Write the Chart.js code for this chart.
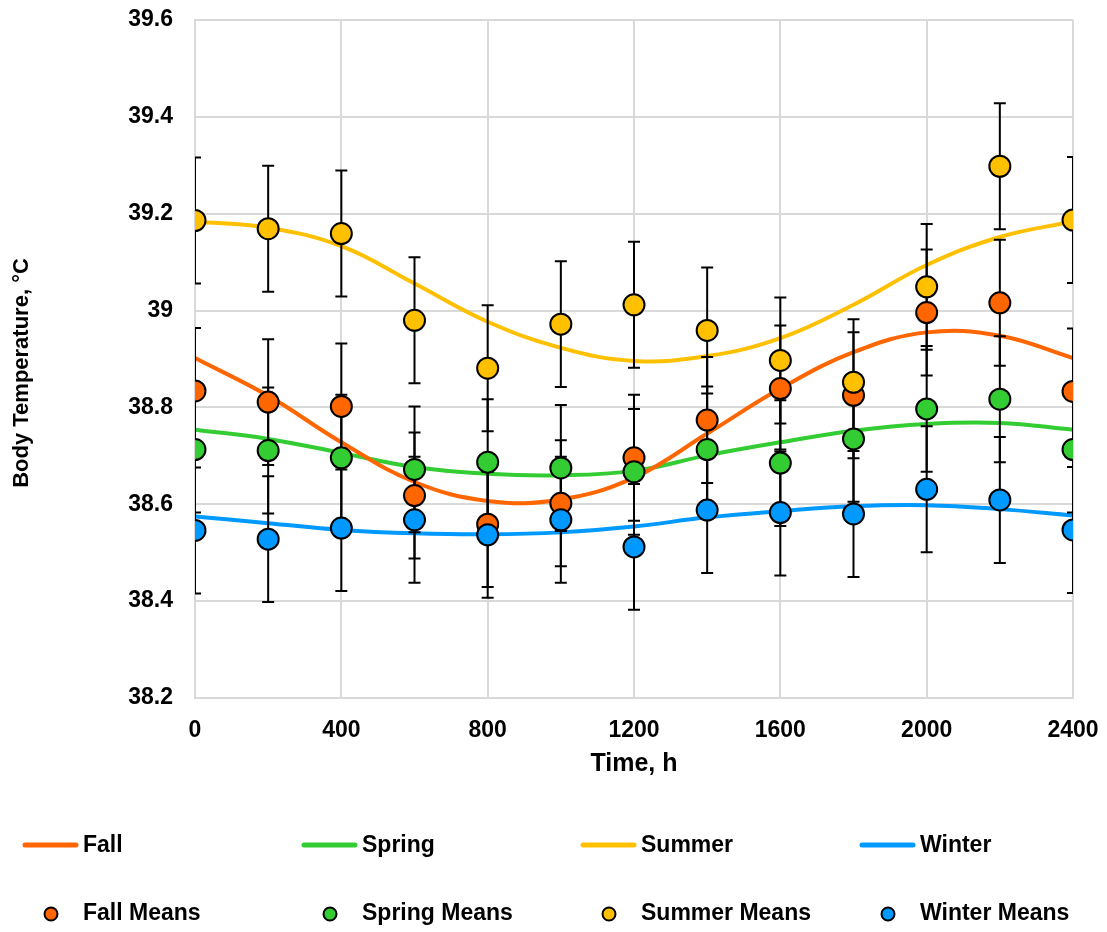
<!DOCTYPE html>
<html>
<head>
<meta charset="utf-8">
<script src="https://cdn.jsdelivr.net/npm/chart.js@4.4.1/dist/chart.umd.min.js"></script>
<style>
html,body{margin:0;padding:0;background:#ffffff;}
#wrap{position:relative;width:1107px;height:932px;}
</style>
</head>
<body>
<div id="wrap"><canvas id="c" width="1107" height="932"></canvas></div>
<script>
// ---- Data ----
const hours = [0, 200, 400, 600, 800, 1000, 1200, 1400, 1600, 1800, 2000, 2200, 2400];
const xTicks = [0, 400, 800, 1200, 1600, 2000, 2400];
const yTicks = [38.2, 38.4, 38.6, 38.8, 39.0, 39.2, 39.4, 39.6];
const xTitle = 'Time, h';
const yTitle = 'Body Temperature, °C';

// Means (points)
const fallMeans   = [38.834, 38.811, 38.802, 38.618, 38.559, 38.602, 38.696, 38.774, 38.839, 38.825, 38.996, 39.016, 38.833];
const springMeans = [38.713, 38.711, 38.696, 38.672, 38.687, 38.675, 38.667, 38.713, 38.685, 38.735, 38.797, 38.817, 38.713];
const summerMeans = [39.186, 39.169, 39.159, 38.980, 38.881, 38.972, 39.012, 38.959, 38.897, 38.852, 39.049, 39.298, 39.187];
const winterMeans = [38.546, 38.528, 38.551, 38.568, 38.537, 38.568, 38.512, 38.588, 38.583, 38.580, 38.631, 38.609, 38.547];

// Error bar half-widths
const fallErr   = [0.13, 0.13, 0.13, 0.13, 0.13, 0.13, 0.13, 0.13, 0.13, 0.13, 0.13, 0.13, 0.13];
const springErr = [0.13, 0.13, 0.13, 0.13, 0.13, 0.13, 0.13, 0.13, 0.13, 0.13, 0.13, 0.13, 0.13];
const summerErr = [0.13, 0.13, 0.13, 0.13, 0.13, 0.13, 0.13, 0.13, 0.13, 0.13, 0.13, 0.13, 0.13];
const winterErr = [0.13, 0.13, 0.13, 0.13, 0.13, 0.13, 0.13, 0.13, 0.13, 0.13, 0.13, 0.13, 0.13];

// Fitted curves
const fallFit   = [38.902, 38.824, 38.728, 38.646, 38.607, 38.610, 38.655, 38.746, 38.839, 38.914, 38.955, 38.948, 38.902];
const springFit = [38.754, 38.735, 38.706, 38.677, 38.663, 38.660, 38.669, 38.701, 38.728, 38.752, 38.766, 38.768, 38.754];
const summerFit = [39.184, 39.171, 39.133, 39.056, 38.977, 38.923, 38.896, 38.906, 38.943, 39.012, 39.094, 39.152, 39.184];
const winterFit = [38.575, 38.561, 38.547, 38.540, 38.538, 38.542, 38.554, 38.573, 38.586, 38.596, 38.598, 38.590, 38.577];

const colors = { fall: '#FF6600', spring: '#33CC33', summer: '#FFC000', winter: '#0099FF' };
const FONT = "'Liberation Sans', Arial, sans-serif";

function pts(vals) { return hours.map((h, i) => ({ x: h, y: vals[i] })); }

function lineDs(label, vals, color) {
  return { type: 'line', label, data: pts(vals), borderColor: color, backgroundColor: color,
           borderWidth: 4, pointRadius: 0, pointHoverRadius: 0, tension: 0.4, fill: false, order: 10, kind: 'line' };
}
function pointDs(label, vals, errs, color, order) {
  return { type: 'line', label, data: pts(vals), errors: errs, showLine: false, borderColor: '#000000',
           backgroundColor: color, pointBackgroundColor: color, pointBorderColor: '#000000',
           pointBorderWidth: 2, pointRadius: 10.5, pointHoverRadius: 10.5, order, kind: 'point' };
}

const errorBarPlugin = {
  id: 'errorBars',
  beforeDatasetDraw(chart, args) {
    const ds = chart.data.datasets[args.index];
    if (ds.label !== 'Fall Means') return;
    const { ctx, chartArea: a, scales: { x, y } } = chart;
    ctx.save();
    ctx.beginPath();
    ctx.rect(a.left, a.top, a.right - a.left, a.bottom - a.top);
    ctx.clip();
    ctx.strokeStyle = '#000000';
    ctx.lineWidth = 2;
    chart.data.datasets.forEach(d => {
      if (d.kind !== 'point') return;
      d.data.forEach((p, i) => {
        const e = d.errors[i];
        const px = x.getPixelForValue(p.x);
        const yt = y.getPixelForValue(p.y + e);
        const yb = y.getPixelForValue(p.y - e);
        ctx.beginPath();
        ctx.moveTo(px, yt); ctx.lineTo(px, yb);
        ctx.moveTo(px - 6, yt); ctx.lineTo(px + 6, yt);
        ctx.moveTo(px - 6, yb); ctx.lineTo(px + 6, yb);
        ctx.stroke();
      });
    });
    ctx.restore();
  }
};

const yTitlePlugin = {
  id: 'yTitle',
  afterDraw(chart) {
    const ctx = chart.ctx;
    ctx.save();
    ctx.translate(22, 373);
    ctx.rotate(-Math.PI / 2);
    ctx.font = 'bold 22px ' + FONT;
    ctx.fillStyle = '#000000';
    ctx.textAlign = 'center';
    ctx.textBaseline = 'middle';
    ctx.fillText(yTitle, 0, 0);
    ctx.restore();
  }
};

const legendPlugin = {
  id: 'customLegend',
  afterDraw(chart) {
    const ctx = chart.ctx;
    const cols = [23, 302, 581, 860];
    ctx.save();
    ctx.font = 'bold 23px ' + FONT;
    ctx.textBaseline = 'middle';
    ctx.textAlign = 'left';
    const lines = chart.data.datasets.filter(d => d.kind === 'line');
    const points = chart.data.datasets.filter(d => d.kind === 'point');
    lines.forEach((d, i) => {
      const x0 = cols[i];
      ctx.strokeStyle = d.borderColor;
      ctx.lineWidth = 5;
      ctx.lineCap = 'round';
      ctx.beginPath(); ctx.moveTo(x0 + 2, 845); ctx.lineTo(x0 + 53, 845); ctx.stroke();
      ctx.fillStyle = '#000000';
      ctx.fillText(d.label, x0 + 60, 846);
    });
    points.forEach((d, i) => {
      const x0 = cols[i];
      ctx.fillStyle = d.pointBackgroundColor;
      ctx.strokeStyle = '#000000';
      ctx.lineWidth = 2;
      ctx.beginPath(); ctx.arc(x0 + 28, 914, 6.5, 0, Math.PI * 2); ctx.fill(); ctx.stroke();
      ctx.fillStyle = '#000000';
      ctx.fillText(d.label, x0 + 60, 914);
    });
    ctx.restore();
  }
};

new Chart(document.getElementById('c'), {
  data: {
    datasets: [
      lineDs('Fall', fallFit, colors.fall),
      lineDs('Spring', springFit, colors.spring),
      lineDs('Summer', summerFit, colors.summer),
      lineDs('Winter', winterFit, colors.winter),
      pointDs('Fall Means', fallMeans, fallErr, colors.fall, 4),
      pointDs('Spring Means', springMeans, springErr, colors.spring, 3),
      pointDs('Summer Means', summerMeans, summerErr, colors.summer, 2),
      pointDs('Winter Means', winterMeans, winterErr, colors.winter, 1)
    ]
  },
  options: {
    responsive: false,
    animation: false,
    devicePixelRatio: 1,
    layout: { padding: { left: 0, top: 20, right: 34, bottom: 134 } },
    plugins: { legend: { display: false }, tooltip: { enabled: false } },
    scales: {
      x: {
        type: 'linear', min: 0, max: 2400,
        afterFit(s) { s.height = 100; s.paddingLeft = 0; s.paddingRight = 0; },
        afterBuildTicks(s) { s.ticks = xTicks.map(v => ({ value: v })); },
        grid: { color: '#d9d9d9', lineWidth: 2, drawTicks: false },
        border: { display: true, color: '#d9d9d9', width: 2 },
        ticks: { padding: 19, color: '#000000', font: { family: FONT, size: 23, weight: 'bold' },
                 callback: v => String(v) },
        title: { display: true, text: xTitle, color: '#000000', padding: { top: 0, bottom: 19 },
                 font: { family: FONT, size: 25, weight: 'bold' } }
      },
      y: {
        type: 'linear', min: 38.2, max: 39.6,
        afterFit(s) { s.width = 195; s.paddingTop = 0; s.paddingBottom = 0; },
        afterBuildTicks(s) { s.ticks = yTicks.map(v => ({ value: v })); },
        grid: { color: '#d9d9d9', lineWidth: 2, drawTicks: false },
        border: { display: true, color: '#d9d9d9', width: 2 },
        ticks: { padding: 22, color: '#000000', font: { family: FONT, size: 23, weight: 'bold' },
                 callback: v => String(Number(v.toFixed(1))) },
        title: { display: false }
      }
    }
  },
  plugins: [errorBarPlugin, yTitlePlugin, legendPlugin]
});
</script>
</body>
</html>
